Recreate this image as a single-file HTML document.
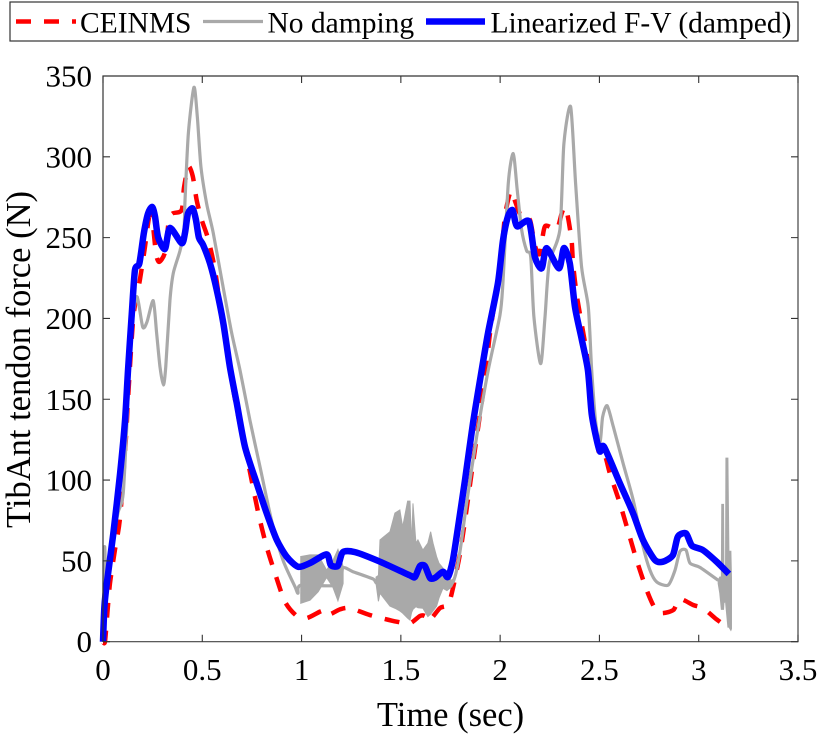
<!DOCTYPE html>
<html lang="en">
<head>
<meta charset="utf-8">
<title>TibAnt tendon force</title>
<style>
html,body{margin:0;padding:0;background:#fff;width:821px;height:737px;overflow:hidden}
svg{display:block;font-family:"Liberation Serif",serif;fill:#000}
</style>
</head>
<body>
<svg id="chart" xmlns="http://www.w3.org/2000/svg" width="821" height="737" viewBox="0 0 821 737">
  <rect x="0" y="0" width="821" height="737" fill="#fff"/>
  <g id="marks"></g>
  <g id="axes"></g>
  <text x="450.5" y="726" font-size="34.5" text-anchor="middle">Time (sec)</text>
  <text transform="translate(30,359.5) rotate(-90)" font-size="34.5" text-anchor="middle">TibAnt tendon force (N)</text>
  <g>
    <rect x="10" y="2" width="788" height="39" fill="#fff" stroke="#333" stroke-width="1.2"/>
    <line x1="16" y1="21.5" x2="76" y2="21.5" stroke="#f00" stroke-width="4.5" stroke-dasharray="15 13"/>
    <text x="80" y="32.5" font-size="29.5">CEINMS</text>
    <line x1="203" y1="21.5" x2="263" y2="21.5" stroke="#a9a9a9" stroke-width="3.2"/>
    <text x="267.5" y="32.5" font-size="29.5">No damping</text>
    <line x1="426" y1="21.5" x2="485" y2="21.5" stroke="#00f" stroke-width="6.5"/>
    <text x="490.5" y="32.5" font-size="29.5">Linearized F-V (damped)</text>
  </g>
</svg>
<script>
const xTicks = [0, 0.5, 1, 1.5, 2, 2.5, 3, 3.5];
const xTickLabels = ["0", "0.5", "1", "1.5", "2", "2.5", "3", "3.5"];
const yTicks = [0, 50, 100, 150, 200, 250, 300, 350];
const yTickLabels = ["0", "50", "100", "150", "200", "250", "300", "350"];

const ceinmsTime = [0,.01,.022,.035,.06,.086,.116,.126,.153,.186,.211,.233,.25,.267,.283,.312,.332,.351,.396,.408,.43,.452,.472,.497,.53,.564,.598,.631,.656,.698,.732,.782,.824,.866,.916,.975,1.026,1.093,1.126,1.143,1.193,1.244,1.344,1.479,1.546,1.596,1.621,1.643,1.697,1.739,1.764,1.781,1.798,1.823,1.865,1.923,1.949,1.999,2.024,2.049,2.063,2.074,2.11,2.15,2.175,2.2,2.226,2.284,2.31,2.326,2.341,2.36,2.367,2.385,2.41,2.436,2.457,2.482,2.503,2.528,2.553,2.603,2.643,2.687,2.738,2.779,2.813,2.872,2.905,2.972,3.023,3.082,3.14];
const ceinmsForce = [0,0,17.7,36,56.7,77,127,150,201,224,244,263,259,240,235,241,261,265,267,281,294,288,273,261,249,230,201,178.5,156,129,110,79.6,58.8,42.4,24.8,16,14.6,18.6,19.6,17,20,20.8,16.5,12.4,11.4,15.9,15.9,13,20.8,23,34,44,54.7,75,112,162,191,232,263,277.5,278,273,262,261,245,240,257,255,265,269,263,248,234,215,197,178,150,127,114.5,115,104,85.6,69,50.6,32,20.7,17.7,19.6,26.4,22.7,20.7,14.6,9.3];

const noDampingTime = [0,.008,.013,.02,.035,.05,.076,.102,.126,.141,.17,.2,.222,.253,.27,.287,.304,.316,.337,.354,.388,.408,.413,.43,.458,.475,.493,.522,.555,.598,.648,.69,.74,.791,.849,.906,.967,.982,.997,1.183,1.208,1.259,1.36,1.385,1.495,1.647,1.747,1.772,1.798,1.831,1.882,1.94,1.999,2.014,2.041,2.066,2.086,2.108,2.133,2.154,2.17,2.204,2.226,2.247,2.301,2.321,2.355,2.38,2.41,2.444,2.461,2.482,2.503,2.516,2.539,2.57,2.62,2.67,2.72,2.754,2.788,2.846,2.88,2.905,2.936,2.956,3.006,3.098];
const noDampingForce = [0,58,40,35,48,62,80,92,150,190,213.5,194.7,198,211,191,170,158.8,170,211,228,242,255,273,314.7,343,324.8,294,271,253,224,191,168,137,108,75,50.6,34,30,35,35,45.6,43.3,38.8,36,40,40,36,40,56,85.6,127,168,202,222,283.5,302,279.5,255,242,238,201,172,201,234,255,308,331,283.5,232,207,168,135,123,139,146,133,110,87.7,58.8,44.4,37,35,44,55.7,56.7,48.6,46,38];

const noiseATime = [.997,1.042,1.083,1.126,1.158,1.183,1.208];
const noiseAHigh = [52.6,53.6,53.6,44,50,56.7,46.6];
const noiseALow = [24,25.8,31,40,34,25.8,36];

const noiseBTime = [1.375,1.387,1.395,1.445,1.47,1.495,1.509,1.534,1.546,1.554,1.561,1.576,1.586,1.611,1.636,1.65,1.662,1.68,1.692,1.712,1.732,1.756,1.772];
const noiseBHigh = [40,41,63,68,79.6,81.5,71,87,87,60,85.6,61,63,56.7,61,68,61,52.6,48.6,45.6,40,38,40];
const noiseBLow = [36,25,30,22,20.7,19,17.7,14.6,13.4,18,20,21.7,21,20.7,15.5,17,19,22,27,33,31.6,34,38];

const noiseCTime = [3.098,3.106,3.114,3.116,3.125,3.127,3.135,3.137,3.147,3.152,3.162,3.165];
const noiseCHigh = [38,40,40,85,85,45,44,113.6,113.6,56,56,40];
const noiseCLow = [36,30,20,20,20,24,25,22,9,9,7,8];

const linearizedTime = [0,.007,.019,.052,.086,.111,.126,.145,.161,.183,.206,.227,.248,.262,.278,.312,.337,.396,.413,.428,.452,.468,.483,.504,.539,.572,.606,.639,.673,.715,.774,.824,.875,.925,.982,1.042,1.126,1.147,1.183,1.208,1.269,1.395,1.546,1.571,1.596,1.621,1.647,1.672,1.712,1.737,1.762,1.788,1.823,1.863,1.907,1.939,1.989,2.014,2.039,2.063,2.085,2.145,2.175,2.209,2.234,2.296,2.321,2.351,2.377,2.411,2.442,2.461,2.486,2.503,2.523,2.603,2.669,2.719,2.779,2.82,2.87,2.895,2.936,2.966,3.021,3.09,3.152];
const linearizedForce = [0,21.6,36,67,104,137,168,203,230,234,253,265,269,263,250,243,256,246.6,253,265,268,261,250,245.5,234,218,197,170,148,120.6,98,79.6,63,52.6,46.4,48.6,54,47.4,47,55.4,55.4,49.5,41,40,46.8,46.8,39.4,39.5,43.3,40,50.5,71,100,135,168,191,222,248,263,267,257,260,238,231,243.5,231,243.5,234,207,187,168,141,125,117.6,120.6,98,79.6,63,50.6,49.5,53.6,65,67,59.4,56.7,49.5,41.9];

const SVG_NS = "http://www.w3.org/2000/svg";
const plotLeft = 103, plotRight = 798, plotTop = 76, plotBottom = 641.7;
const xMax = 3.5, yMax = 350;
function xScale(v) { return plotLeft + (v / xMax) * (plotRight - plotLeft); }
function yScale(v) { return plotBottom - (v / yMax) * (plotBottom - plotTop); }

function smoothPath(times, values) {
  const p = times.map((t, i) => [xScale(t), yScale(values[i])]);
  const k = 1 / 8;
  let d = "M" + p[0][0].toFixed(2) + " " + p[0][1].toFixed(2);
  for (let i = 0; i < p.length - 1; i++) {
    const a = p[Math.max(i - 1, 0)], b = p[i], c = p[i + 1], e = p[Math.min(i + 2, p.length - 1)];
    d += "C" + (b[0] + (c[0] - a[0]) * k).toFixed(2) + " " + (b[1] + (c[1] - a[1]) * k).toFixed(2) +
         " " + (c[0] - (e[0] - b[0]) * k).toFixed(2) + " " + (c[1] - (e[1] - b[1]) * k).toFixed(2) +
         " " + c[0].toFixed(2) + " " + c[1].toFixed(2);
  }
  return d;
}
function bandPoints(times, high, low) {
  const top = times.map((t, i) => xScale(t).toFixed(2) + "," + yScale(high[i]).toFixed(2));
  const bottom = times.map((t, i) => xScale(t).toFixed(2) + "," + yScale(low[i]).toFixed(2)).reverse();
  return top.concat(bottom).join(" ");
}
function make(tag, attrs, parent) {
  const el = document.createElementNS(SVG_NS, tag);
  for (const key in attrs) { el.setAttribute(key, attrs[key]); }
  parent.appendChild(el);
  return el;
}

const marks = document.getElementById("marks");
const axes = document.getElementById("axes");

const redLine = make("path", {d: smoothPath(ceinmsTime, ceinmsForce), fill: "none", stroke: "#f00", "stroke-width": 4.5, "stroke-dasharray": "15 13"}, marks);



const grayLine = make("path", {d: smoothPath(noDampingTime, noDampingForce), fill: "none", stroke: "#a9a9a9", "stroke-width": 3.2, "stroke-linejoin": "round"}, marks);



const bandA = make("polygon", {points: bandPoints(noiseATime, noiseAHigh, noiseALow), fill: "#a9a9a9", stroke: "#a9a9a9", "stroke-width": 1.5}, marks);



const bandB = make("polygon", {points: bandPoints(noiseBTime, noiseBHigh, noiseBLow), fill: "#a9a9a9", stroke: "#a9a9a9", "stroke-width": 1}, marks);



const bandC = make("polygon", {points: bandPoints(noiseCTime, noiseCHigh, noiseCLow), fill: "#a9a9a9", stroke: "#a9a9a9", "stroke-width": 1}, marks);



const blueLine = make("path", {d: smoothPath(linearizedTime, linearizedForce), fill: "none", stroke: "#00f", "stroke-width": 6.5, "stroke-linejoin": "round"}, marks);



const frame = make("path", {d: "M" + plotLeft + " " + plotBottom + "V" + plotTop + "H" + plotRight, fill: "none", stroke: "#333", "stroke-width": 1.2}, axes);



const frameB = make("path", {d: "M" + plotLeft + " " + plotBottom + "H" + plotRight + "V" + plotTop, fill: "none", stroke: "#444", "stroke-width": 1.2}, axes);



xTicks.forEach((v, i) => {
  const x = xScale(v);
  const tick = make("path", {d: "M" + x + " " + plotBottom + "v-7M" + x + " " + plotTop + "v7", stroke: "#333", "stroke-width": 1.1, fill: "none"}, axes);
  
  
  const label = make("text", {x: x, y: 680, "font-size": 31, "text-anchor": "middle"}, axes);
  label.textContent = xTickLabels[i];
  
  
});
yTicks.forEach((v, i) => {
  const y = yScale(v);
  const tick = make("path", {d: "M" + plotLeft + " " + y + "h7M" + plotRight + " " + y + "h-7", stroke: "#333", "stroke-width": 1.1, fill: "none"}, axes);
  
  
  const label = make("text", {x: 92, y: y + 10.5, "font-size": 31, "text-anchor": "end"}, axes);
  label.textContent = yTickLabels[i];
  
  
});
</script>
</body>
</html>
